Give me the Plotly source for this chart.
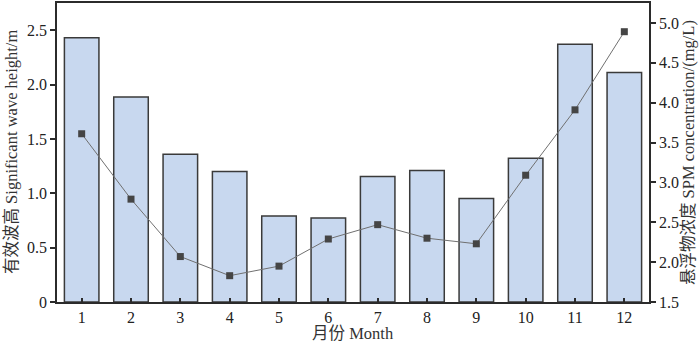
import plotly.graph_objects as go

months = [1, 2, 3, 4, 5, 6, 7, 8, 9, 10, 11, 12]
month_labels = ["1", "2", "3", "4", "5", "6", "7", "8", "9", "10", "11", "12"]
wave_height = [2.43, 1.885, 1.36, 1.20, 0.79, 0.772, 1.155, 1.21, 0.952, 1.322, 2.37, 2.11]
spm = [3.61, 2.79, 2.07, 1.83, 1.95, 2.29, 2.47, 2.30, 2.23, 3.09, 3.91, 4.89]
left_ticks = [0, 0.5, 1.0, 1.5, 2.0, 2.5]
left_tick_text = ["0", "0.5", "1.0", "1.5", "2.0", "2.5"]
right_ticks = [1.5, 2.0, 2.5, 3.0, 3.5, 4.0, 4.5, 5.0]
right_tick_text = ["1.5", "2.0", "2.5", "3.0", "3.5", "4.0", "4.5", "5.0"]

FONT = "Liberation Serif, Times New Roman, Noto Sans CJK SC, serif"
AX = "#2b2b2b"
TICK_SIZE = 16
TITLE_SIZE = 16.5

fig = go.Figure()
fig.add_trace(go.Bar(
    x=months, y=wave_height, width=0.7,
    marker=dict(color="#c8d8ef", line=dict(color="#3a3a3a", width=1.5)),
    showlegend=False,
))
fig.add_trace(go.Scatter(
    x=months, y=spm, yaxis="y2", mode="lines+markers",
    line=dict(color="#707070", width=1),
    marker=dict(symbol="square", size=7, color="#454545"),
    showlegend=False,
))

fig.update_layout(
    width=700, height=343,
    margin=dict(l=57, r=51, t=3, b=41, autoexpand=False),
    plot_bgcolor="white", paper_bgcolor="white",
    font=dict(family=FONT, size=TICK_SIZE, color="#222"),
    xaxis=dict(
        range=[0.5, 12.5], tickvals=months, ticktext=month_labels,
        ticks="inside", ticklen=4, tickwidth=1.5, tickcolor=AX,
        showline=True, linecolor=AX, linewidth=1.5, mirror=True,
        showgrid=False, zeroline=False, automargin=False,
        tickfont=dict(family=FONT, size=TICK_SIZE),
    ),
    yaxis=dict(
        range=[0, 2.75], tickvals=left_ticks, ticktext=left_tick_text,
        ticks="outside", ticklen=5, tickwidth=1.5, tickcolor=AX,
        showline=True, linecolor=AX, linewidth=1.5,
        showgrid=False, zeroline=False, automargin=False,
        tickfont=dict(family=FONT, size=TICK_SIZE),
    ),
    yaxis2=dict(
        range=[1.5, 5.25], tickvals=right_ticks, ticktext=right_tick_text,
        overlaying="y", side="right",
        ticks="outside", ticklen=5, tickwidth=1.5, tickcolor=AX,
        showline=True, linecolor=AX, linewidth=1.5,
        showgrid=False, zeroline=False, automargin=False,
        tickfont=dict(family=FONT, size=TICK_SIZE),
    ),
    annotations=[
        dict(text="有效波高 Significant wave height/m", xref="paper", yref="paper",
             x=-57/592, y=0.5, xanchor="left", yanchor="middle", textangle=-90,
             showarrow=False, font=dict(family=FONT, size=TITLE_SIZE, color="#333")),
        dict(text="悬浮物浓度 SPM concentration/(mg/L)", xref="paper", yref="paper",
             x=1 + 51/592, y=0.5, xanchor="right", yanchor="middle", textangle=-90,
             showarrow=False, font=dict(family=FONT, size=TITLE_SIZE, color="#333")),
        dict(text="月份 Month", xref="paper", yref="paper",
             x=0.5, y=0, yshift=-31, xanchor="center", yanchor="middle",
             showarrow=False, font=dict(family=FONT, size=TITLE_SIZE, color="#333")),
    ],
)

fig.write_html("out.html",
               config={"displayModeBar": False},
               post_script="document.body.style.margin='0';document.body.style.overflow='hidden';")
